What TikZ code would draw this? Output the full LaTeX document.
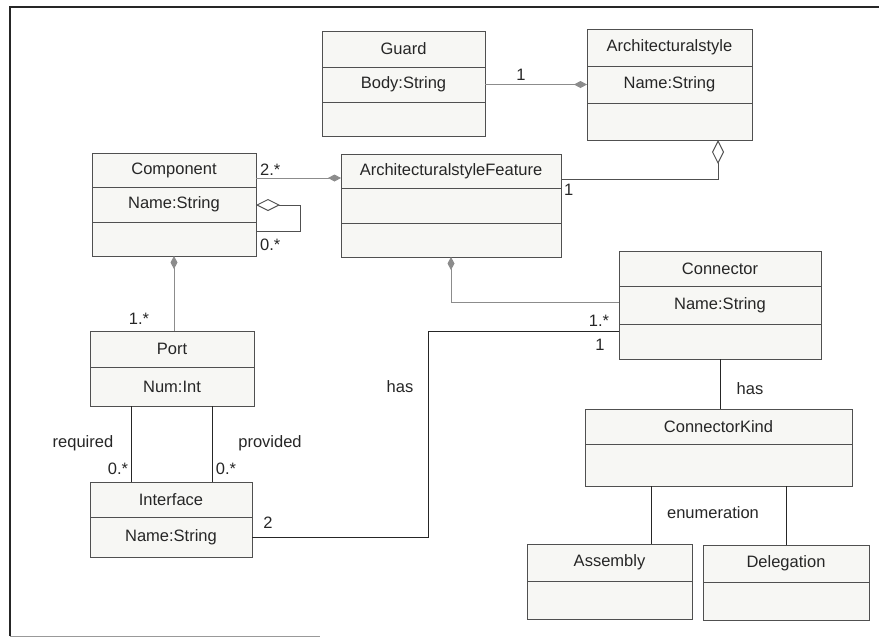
\documentclass[tikz,border=0pt]{standalone}
\usepackage{fontspec}
\setmainfont{Liberation Sans}
\usetikzlibrary{arrows.meta,fit,calc}

\definecolor{boxfill}{HTML}{F7F7F4}
\definecolor{boxline}{HTML}{505050}
\definecolor{linkgray}{HTML}{8C8C8C}

\tikzset{
  classbox/.style={draw=boxline, fill=boxfill, line width=1pt, inner sep=0pt, outer sep=0pt},
  classrule/.style={draw=boxline, line width=1pt},
  classtext/.style={font=\fontsize{16.5}{18}\selectfont, text=black!85, inner sep=1pt},
  multlabel/.style={font=\fontsize{16.5}{18}\selectfont, text=black!85, inner sep=1pt},
  assoc/.style={draw=black!85, line width=1pt},
  compline/.style={draw=linkgray, line width=1pt, {Diamond[length=13pt,width=7pt,fill=linkgray]}-},
  aggline/.style={draw=boxline, line width=1pt, {Diamond[open,length=24pt,width=12pt,fill=white]}-},
}

% name, left, right, top, rule 1, rule 2, bottom, title, attribute
\newcommand{\umlclass}[9]{%
  \node[classbox, fit={(#2,#4) (#3,#7)}] (#1) {};
  \draw[classrule] (#2,#5) -- (#3,#5);
  \draw[classrule] (#2,#6) -- (#3,#6);
  \node[classtext] (#1-name) at ({(#2+#3)/2},{(#4+#5)/2}) {#8};
  \node[classtext] (#1-attr) at ({(#2+#3)/2},{(#5+#6)/2}) {#9};
}

\begin{document}
\begin{tikzpicture}[x=1pt,y=-1pt]
  \useasboundingbox (0,0) rectangle (879,638);
  % scanned frame
  \draw[black!85, line width=2pt] (10,636) -- (10,7) -- (879,7);
  \draw[black!40, line width=1pt] (10,636) -- (320,636);

  % classes
  \umlclass{guard}{322}{485}{31}{67}{102}{136}{Guard}{Body:String}
  \umlclass{arch}{587}{752}{29}{66}{103}{140}{Architecturalstyle}{Name:String}
  \umlclass{comp}{92}{256}{153}{187}{222}{256}{Component}{Name:String}
  \umlclass{asf}{341}{561}{154}{188}{223}{257}{ArchitecturalstyleFeature}{}
  \umlclass{conn}{619}{821}{251}{286}{324}{359}{Connector}{Name:String}
  \umlclass{port}{90}{254}{331}{367}{406}{406}{Port}{Num:Int}
  \umlclass{iface}{90}{252}{482}{517}{557}{557}{Interface}{Name:String}
  \umlclass{ck}{585}{852}{409}{444}{486}{486}{ConnectorKind}{}
  \umlclass{assem}{527}{692}{544}{581}{619}{619}{Assembly}{}
  \umlclass{deleg}{703}{869}{545}{582}{620}{620}{Delegation}{}

  % compositions
  \draw[compline] (arch.west |- guard-attr) -- (guard.east |- guard-attr);
  \draw[compline] (asf.west |- 0,178) -- (comp.east |- 0,178);
  \draw[compline] (comp.south) -- (comp.south |- port.north);
  \draw[compline] (asf.south) |- (conn.west |- 0,302);

  % aggregations
  \draw[aggline] (comp.east |- 0,205) -- (300,205) |- (comp.east |- 0,231);
  \draw[aggline] ($(arch.south east)+(-34,0)$) |- (asf.east |- 0,179);

  % associations
  \draw[assoc] ([xshift=41pt]port.south west) -- ([xshift=41pt]port.south west |- iface.north);
  \draw[assoc] ([xshift=122pt]port.south west) -- ([xshift=122pt]port.south west |- iface.north);
  \draw[assoc] (iface.east |- iface-attr) -- (428,0 |- iface-attr) |- (conn.west |- 0,331);
  \draw[assoc] (conn.south) -- (conn.south |- ck.north);
  \draw[assoc] (ck.south -| 651,0) -- (assem.north -| 651,0);
  \draw[assoc] (deleg.north) -- (deleg.north |- ck.south);

  % multiplicities and roles
  \node[multlabel] (m-guard) at (521,75) {1};
  \node[multlabel, anchor=west] (m-comp) at (259,170) {2.*};
  \node[multlabel, anchor=west] (m-self) at (259,245) {0.*};
  \node[multlabel, anchor=west] (m-asf) at (563,190) {1};
  \node[multlabel] (m-port) at (139,319) {1.*};
  \node[multlabel] (r-req) at (83,443) {required};
  \node[multlabel] (m-req) at (118,469) {0.*};
  \node[multlabel] (r-prov) at (270,443) {provided};
  \node[multlabel] (m-prov) at (226,469) {0.*};
  \node[multlabel] (m-iface) at (268,523) {2};
  \node[multlabel] (m-conn) at (599,321) {1.*};
  \node[multlabel] (m-conn1) at (600,345) {1};
  \node[multlabel] (r-has) at (400,387) {has};
  \node[multlabel] (r-has2) at (750,389) {has};
  \node[multlabel] (r-enum) at (713,513) {enumeration};
\end{tikzpicture}
\end{document}
